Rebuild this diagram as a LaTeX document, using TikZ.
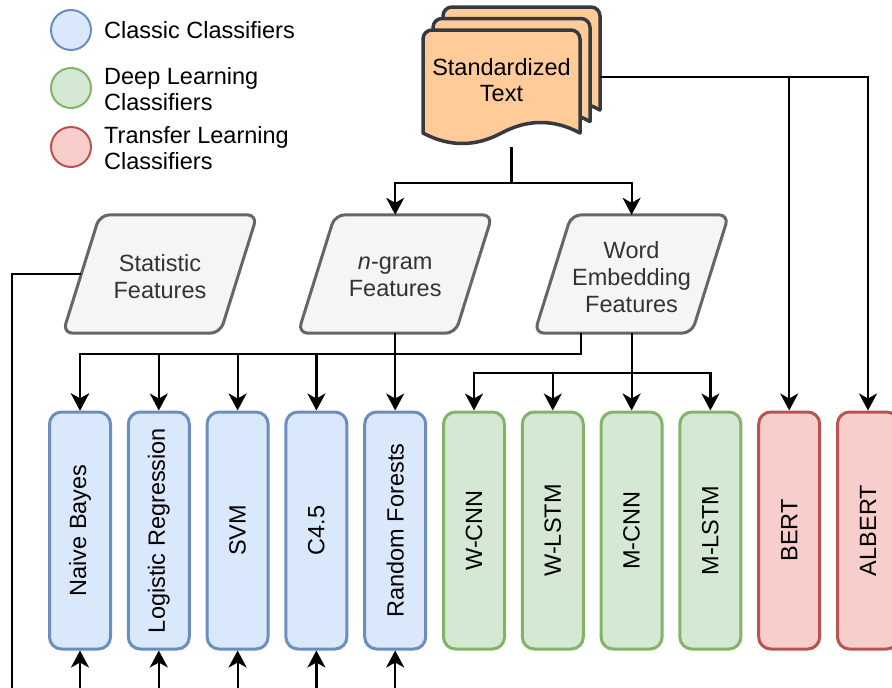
\documentclass[tikz,border=0pt]{standalone}
\usepackage{graphicx}
\usepackage{fontspec}
\setmainfont{Liberation Sans}
\usetikzlibrary{arrows.meta}
\definecolor{clsfill}{HTML}{DAE8FC}\definecolor{clsline}{HTML}{6C8EBF}
\definecolor{dlfill}{HTML}{D5E8D4}\definecolor{dlline}{HTML}{82B366}
\definecolor{tlfill}{HTML}{F8CECC}\definecolor{tlline}{HTML}{B85450}
\definecolor{featfill}{HTML}{F5F5F5}\definecolor{featline}{HTML}{666666}
\definecolor{docfill}{HTML}{FFCC99}\definecolor{docline}{HTML}{36393D}
\definecolor{textgray}{HTML}{333333}

% one sheet of the document stack, top-left corner at (#1,#2)
\newcommand\docsheet[2]{%
  \draw[docsheet] (#1,#2+103) -- (#1,#2+9)
    arc[start angle=180,end angle=270,radius=9] -- (#1+148,#2)
    arc[start angle=270,end angle=360,radius=9] -- (#1+157,#2+103)
    .. controls (#1+131,#2+89) and (#1+104.7,#2+89) .. (#1+78.5,#2+103)
    .. controls (#1+52.3,#2+117) and (#1+26.2,#2+117) .. (#1,#2+103) -- cycle;}

% slanted feature box: name, centre x, centre y, text
\newcommand\featurebox[4]{%
  \node[featframe] (#1) at (#2,#3) {};
  \draw[featshape] ([xshift=37pt]#1.north west) -- (#1.north east)
    -- ([xshift=-37pt]#1.south east) -- (#1.south west) -- cycle;
  \node[txt, text=textgray, align=center, font=\fontsize{23.5}{27}\selectfont] at ([yshift=-3pt]#1.center) {#4};}

\begin{document}
\begin{tikzpicture}[x=1pt,y=-1pt,
  txt/.style={font=\fontsize{23.5}{26.5}\selectfont, inner sep=0pt},
  model/.style={draw, line width=3pt, rounded corners=12pt, minimum width=61pt,
    minimum height=237pt, inner sep=0pt, font=\fontsize{23.5}{26.5}\selectfont},
  classic/.style={model, fill=clsfill, draw=clsline},
  deep/.style={model, fill=dlfill, draw=dlline},
  transfer/.style={model, fill=tlfill, draw=tlline},
  featframe/.style={minimum width=194pt, minimum height=118pt, inner sep=0pt},
  featshape/.style={draw=featline, fill=featfill, line width=3pt, rounded corners=10pt},
  docsheet/.style={draw=docline, fill=docfill, line width=3.5pt, line join=round},
  conn/.style={line width=2.2pt},
  arr/.style={conn, -{Stealth[length=17pt,width=18pt,inset=5pt]}},
  key/.style={circle, line width=2pt, minimum size=40pt, inner sep=0pt}]

\clip (0,0) rectangle (892,688);

% legend
\node[key, draw=clsline, fill=clsfill] (k1) at (71,30) {};
\node[key, draw=dlline, fill=dlfill] (k2) at (71,88) {};
\node[key, draw=tlline, fill=tlfill] (k3) at (71,147) {};
\node[txt, anchor=west] (k1t) at (104,30) {Classic Classifiers};
\node[txt, anchor=west, align=left] (k2t) at (104,89) {Deep Learning\\Classifiers};
\node[txt, anchor=west, align=left] (k3t) at (104,148) {Transfer Learning\\Classifiers};

% document stack
\docsheet{443}{7}
\docsheet{433}{18.5}
\docsheet{423}{30}
\node[minimum width=177pt, minimum height=140pt, inner sep=0pt] (stack) at (511.5,77) {};
\node[txt, align=center] (doctext) at (501.5,80) {Standardized\\Text};

% feature sets
\featurebox{stat}{160}{274}{Statistic\\Features}
\featurebox{ngram}{395.2}{274}{\textit{n}-gram\\Features}
\featurebox{we}{631.6}{274}{Word\\Embedding\\Features}

% classifiers
\node[classic] (nb) at (80,530.5) {\rotatebox{90}{Naive Bayes}};
\node[classic] (lr) at (158.8,530.5) {\rotatebox{90}{Logistic Regression}};
\node[classic] (svm) at (237.6,530.5) {\rotatebox{90}{SVM}};
\node[classic] (c45) at (316.4,530.5) {\rotatebox{90}{C4.5}};
\node[classic] (rf) at (395.2,530.5) {\rotatebox{90}{Random Forests}};
\node[deep] (wcnn) at (474,530.5) {\rotatebox{90}{W-CNN}};
\node[deep] (wlstm) at (552.8,530.5) {\rotatebox{90}{W-LSTM}};
\node[deep] (mcnn) at (631.6,530.5) {\rotatebox{90}{M-CNN}};
\node[deep] (mlstm) at (710.4,530.5) {\rotatebox{90}{M-LSTM}};
\node[transfer] (bert) at (789.2,530.5) {\rotatebox{90}{BERT}};
\node[transfer] (albert) at (868,530.5) {\rotatebox{90}{ALBERT}};

% text to feature sets
\draw[arr] (stack.south) -- ++(0,36) -| (ngram.north);
\draw[arr] (stack.south) -- ++(0,36) -| (we.north);
% text straight to the transfer models
\draw[arr] (stack.east) -| (bert.north);
\draw[arr] (stack.east) -| (albert.north);

% n-gram and embedding features to the classic models
\foreach \m in {nb,lr,svm,c45}
  \draw[arr] (ngram.south) -- ++(0,21) -| (\m.north);
\draw[arr] (ngram.south) -- (rf.north);
\draw[arr] ([xshift=-50.6pt]we.south) -- ++(0,21) -| (nb.north);

% embedding features to the deep models
\foreach \m in {wcnn,wlstm,mlstm}
  \draw[arr] (we.south) -- ++(0,40) -| (\m.north);
\draw[arr] (we.south) -- (mcnn.north);

% statistic features run down the left side
\coordinate (statend) at (12,700);
\draw[conn] ([xshift=18.5pt]stat.west) -| (statend);

% inputs from below
\foreach \m in {nb,lr,svm,c45,rf}
  \draw[arr] (\m.south) ++(0,50) -- (\m.south);
\end{tikzpicture}
\end{document}
